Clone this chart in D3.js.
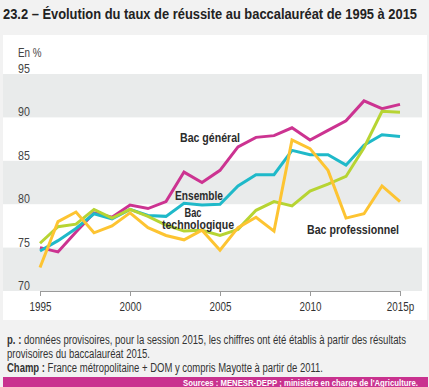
<!DOCTYPE html>
<html lang="fr">
    <head>
        <meta charset="utf-8">
        <title>taux de reussite bac</title>
        <script type="text/javascript" src="https://cdn.jsdelivr.net/npm/d3@7"></script>
        <style>
            body { margin: 0; background: #f2f2f2; }
            svg { display: block; }
            .axis text { font-family: "Liberation Sans", Arial, sans-serif; font-size: 12px; fill: #333; }
            .axis path, .axis line { stroke: #9a9a9a; }
        </style>
    </head>

    <body>
        <script type="text/javascript">
        var w = 429;
        var h = 387;

        // data
        var years = [1995, 1996, 1997, 1998, 1999, 2000, 2001, 2002, 2003, 2004, 2005,
                     2006, 2007, 2008, 2009, 2010, 2011, 2012, 2013, 2014, 2015];
        var bacGeneral = [75.0, 74.5, 76.8, 79.0, 78.5, 79.9, 79.5, 80.3, 83.7, 82.5, 83.9,
                          86.6, 87.7, 87.9, 88.8, 87.4, 88.5, 89.6, 91.9, 91.0, 91.5];
        var ensemble = [74.6, 75.8, 77.2, 78.9, 78.3, 79.4, 78.7, 78.6, 80.1, 79.9, 80.0,
                        82.1, 83.4, 83.4, 86.2, 85.7, 85.7, 84.5, 86.8, 88.0, 87.8];
        var bacTechno = [75.5, 77.4, 77.7, 79.4, 78.4, 79.4, 78.6, 77.6, 76.9, 77.0, 76.4,
                         77.1, 79.3, 80.3, 79.8, 81.5, 82.3, 83.2, 86.5, 90.7, 90.6];
        var bacPro = [72.7, 78.0, 79.1, 76.7, 77.5, 79.0, 77.3, 76.4, 75.9, 77.0, 74.7,
                      77.3, 78.5, 76.9, 87.4, 86.4, 83.9, 78.4, 78.9, 82.1, 80.3];

        var seriesNames = ["Bac général", "Ensemble", "Bac technologique", "Bac professionnel"];
        var seriesValues = [bacGeneral, ensemble, bacTechno, bacPro];
        var colors = ["#cc3391", "#1fb9c9", "#b7d433", "#fdc432"];

        var xTicks = [1995, 2000, 2005, 2010, 2015];
        var yTicks = [70, 75, 80, 85, 90, 95];

        var titleText = "23.2 – Évolution du taux de réussite au baccalauréat de 1995 à 2015";
        var sourceText = "Sources : MENESR-DEPP ; ministère en charge de l'Agriculture.";

        var font = '"Liberation Sans", Arial, sans-serif';

        // no narrow font installed: squeeze Liberation Sans to ~82% like Arial Narrow
        function narrowize(sel, k) {
            sel.each(function(){
                var l = this.getComputedTextLength();
                d3.select(this)
                    .attr("textLength", l * (k || 0.82))
                    .attr("lengthAdjust", "spacingAndGlyphs");
            });
        }

        var xScale = d3.scaleLinear().domain([1995, 2015]).range([40, 400]);
        var yScale = d3.scaleLinear().domain([70, 95]).range([291, 74]);

        var svg = d3.select("body")
                    .append("svg")
                    .attr("width", w)
                    .attr("height", h);

        // title
        svg.append("text")
            .attr("x", 3)
            .attr("y", 19)
            .attr("font-family", font)
            .attr("font-weight", "bold")
            .attr("font-size", 14)
            .attr("fill", "#222")
            .attr("textLength", 414)
            .attr("lengthAdjust", "spacingAndGlyphs")
            .text(titleText);

        // white chart panel
        svg.append("rect")
            .attr("x", 3)
            .attr("y", 35)
            .attr("width", 424)
            .attr("height", 285)
            .attr("fill", "#fff");

        // gray bands every other 5 points
        svg.selectAll("rect.band")
            .data([70, 80, 90])
            .enter()
            .append("rect")
            .attr("class", "band")
            .attr("x", 3)
            .attr("width", 419)
            .attr("y", function(d){ return yScale(d + 5); })
            .attr("height", function(d){ return yScale(d) - yScale(d + 5); })
            .attr("fill", "#e9ebeb");

        // y labels sit just above their gridline
        svg.selectAll("text.ylab")
            .data(yTicks)
            .enter()
            .append("text")
            .attr("class", "ylab")
            .attr("x", 18)
            .attr("y", function(d){ return yScale(d) - 1; })
            .attr("font-family", font)
            .attr("font-size", 13)
            .attr("fill", "#444")
            .text(function(d){ return d; })
            .call(narrowize);

        svg.append("text")
            .attr("x", 18)
            .attr("y", 57)
            .attr("font-family", font)
            .attr("font-size", 12)
            .attr("fill", "#444")
            .text("En %")
            .call(narrowize);

        // x axis
        var xAxis = d3.axisBottom(xScale)
                    .tickValues(xTicks)
                    .tickSize(5)
                    .tickSizeOuter(0)
                    .tickPadding(6)
                    .tickFormat(function(d){ return d === 2015 ? "2015p" : d; });

        svg.append("g")
            .attr("class", "axis")
            .attr("transform", "translate(0," + yScale(70) + ")")
            .call(xAxis)
            .selectAll("text")
            .call(narrowize);

        // lines
        var line = d3.line()
                    .x(function(d, i){ return xScale(years[i]); })
                    .y(function(d){ return yScale(d); });

        svg.selectAll("path.serie")
            .data(seriesValues)
            .enter()
            .append("path")
            .attr("class", "serie")
            .attr("d", line)
            .attr("fill", "none")
            .attr("stroke", function(d, i){ return colors[i]; })
            .attr("stroke-width", 3)
            .attr("stroke-linejoin", "miter");

        // series labels (width = measured in the picture)
        var labels = [
            { t: "Bac général", x: 210, y: 141.5, l: 60 },
            { t: "Ensemble", x: 199, y: 199.5, l: 48 },
            { t: "Bac", x: 193, y: 217, l: 17 },
            { t: "technologique", x: 198, y: 228.5, l: 72 },
            { t: "Bac professionnel", x: 353, y: 234, l: 92 }
        ];
        svg.selectAll("text.serielab")
            .data(labels)
            .enter()
            .append("text")
            .attr("class", "serielab")
            .attr("x", function(d){ return d.x; })
            .attr("y", function(d){ return d.y; })
            .attr("text-anchor", "middle")
            .attr("font-family", font)
            .attr("font-weight", "bold")
            .attr("font-size", 13)
            .attr("fill", "#2b2b2b")
            .attr("textLength", function(d){ return d.l; })
            .attr("lengthAdjust", "spacingAndGlyphs")
            .text(function(d){ return d.t; });

        // notes
        var notes = svg.append("g")
                    .attr("font-family", font)
                    .attr("font-size", 12.5)
                    .attr("fill", "#333");

        var n1 = notes.append("text").attr("x", 7).attr("y", 344)
                    .attr("textLength", 399).attr("lengthAdjust", "spacingAndGlyphs");
        n1.append("tspan").attr("font-weight", "bold").text("p. :");
        n1.append("tspan").text(" données provisoires, pour la session 2015, les chiffres ont été établis à partir des résultats");

        notes.append("text").attr("x", 7).attr("y", 358)
            .attr("textLength", 143).attr("lengthAdjust", "spacingAndGlyphs")
            .text("provisoires du baccalauréat 2015.");

        var n3 = notes.append("text").attr("x", 7).attr("y", 372)
                    .attr("textLength", 316).attr("lengthAdjust", "spacingAndGlyphs");
        n3.append("tspan").attr("font-weight", "bold").text("Champ :");
        n3.append("tspan").text(" France métropolitaine + DOM y compris Mayotte à partir de 2011.");

        // sources bar
        svg.append("rect")
            .attr("x", 3)
            .attr("y", 377)
            .attr("width", 425)
            .attr("height", 10)
            .attr("fill", "#c9328f");

        svg.append("text")
            .attr("x", 418)
            .attr("y", 385.5)
            .attr("text-anchor", "end")
            .attr("font-family", font)
            .attr("font-weight", "bold")
            .attr("font-size", 9.5)
            .attr("fill", "#fff")
            .attr("textLength", 235)
            .attr("lengthAdjust", "spacingAndGlyphs")
            .text(sourceText);

        </script>
    </body>
</html>
